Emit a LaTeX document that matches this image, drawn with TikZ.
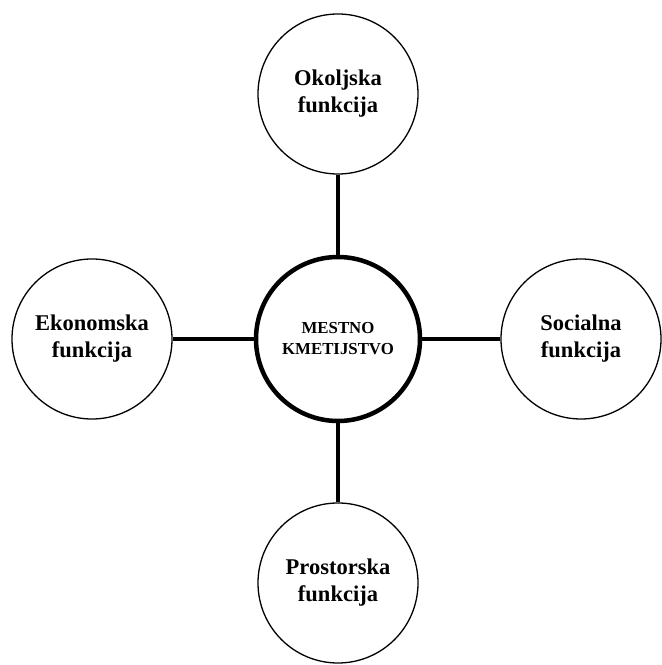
\documentclass[tikz,border=0pt]{standalone}
\usepackage{fontspec}
\setmainfont{Liberation Serif}
\begin{document}
\begin{tikzpicture}[x=1pt,y=1pt,
    funcbox/.style={shape=circle,draw,line width=1.3pt,minimum size=160pt,inner sep=0pt,align=center,
      font=\bfseries\fontsize{22.5}{27}\selectfont},
    corebox/.style={shape=circle,draw,line width=4.5pt,minimum size=164pt,inner sep=0pt,align=center,
      font=\bfseries\fontsize{16.8}{21}\selectfont},
    spoke/.style={line width=4.5pt}]
    \useasboundingbox (0,0) rectangle (662,665);
    \node[corebox] (kmet) at (338,326) {MESTNO\\KMETIJSTVO};
    \node[funcbox] (okolj) at (338,571) {Okoljska\\funkcija};
    \node[funcbox] (ekon) at (92,326) {Ekonomska\\funkcija};
    \node[funcbox] (soc) at (581,326) {Socialna\\funkcija};
    \node[funcbox] (prost) at (338,82) {Prostorska\\funkcija};
    \draw[spoke] (kmet) -- (okolj);
    \draw[spoke] (kmet) -- (ekon);
    \draw[spoke] (kmet) -- (soc);
    \draw[spoke] (kmet) -- (prost);
    \end{tikzpicture}
\end{document}
